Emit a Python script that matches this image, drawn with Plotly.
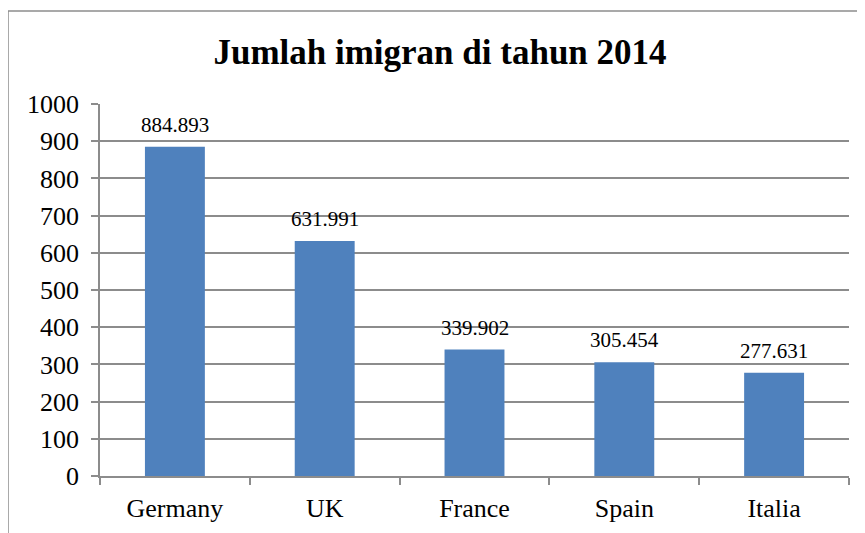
import plotly.graph_objects as go

countries = ["Germany", "UK", "France", "Spain", "Italia"]
values = [884.893, 631.991, 339.902, 305.454, 277.631]
value_labels = ["884.893", "631.991", "339.902", "305.454", "277.631"]
y_ticks = [0, 100, 200, 300, 400, 500, 600, 700, 800, 900, 1000]

# page has an 8px body margin; work in page pixel coordinates
OFF = 8
W, H = 865 - OFF, 533 - OFF
L, R, T, B = 100 - OFF, 865 - 849, 104 - OFF, 533 - 476
pw, ph = W - L - R, H - T - B

fig = go.Figure()
fig.add_trace(go.Bar(x=countries, y=values, marker=dict(color="#4F81BD", line=dict(width=0)),
                     hoverinfo="x+y"))

for c, v, t in zip(countries, values, value_labels):
    fig.add_annotation(x=c, y=v, text=t, showarrow=False, yanchor="bottom", yshift=8,
                       font=dict(family="Liberation Serif", size=21, color="#000"))

def px2x(p):
    return (p - OFF - L) / pw

def px2y(p):
    return (H + OFF - B - p) / ph

grey = "#8C8C8C"
fig.add_shape(type="line", xref="paper", yref="paper", x0=px2x(8), x1=px2x(8), y0=px2y(11), y1=px2y(540),
              line=dict(color=grey, width=1.5))
fig.add_shape(type="line", xref="paper", yref="paper", x0=px2x(8), x1=px2x(870), y0=px2y(11), y1=px2y(11),
              line=dict(color=grey, width=1.5))

fig.update_layout(
    width=W, height=H,
    margin=dict(l=L, r=R, t=T, b=B, autoexpand=False),
    paper_bgcolor="white", plot_bgcolor="white",
    bargap=0.6,
    showlegend=False,
    title=dict(text="<b>Jumlah imigran di tahun 2014</b>", x=(440 - OFF) / W, xanchor="center",
               xref="container", y=1 - (52 - OFF) / H, yanchor="middle",
               font=dict(family="Liberation Serif", size=35, color="#000")),
    font=dict(family="Liberation Serif", color="#000"),
)
fig.update_yaxes(range=[0, 1000], tickvals=y_ticks, showgrid=True, gridcolor=grey, gridwidth=1.5,
                 showline=True, linecolor=grey, linewidth=1.5, ticks="outside", ticklen=7, tickcolor=grey,
                 tickwidth=1.5, tickfont=dict(size=26, family="Liberation Serif"), zeroline=False,
                 ticklabelstandoff=7, automargin=False)
fig.update_xaxes(showline=True, linecolor=grey, linewidth=1.5, ticks="outside", tickson="boundaries",
                 ticklen=7, tickcolor=grey, tickwidth=1.5, tickfont=dict(size=26, family="Liberation Serif"),
                 showgrid=False, automargin=False, ticklabelstandoff=8)

fig.write_html("out.html")
